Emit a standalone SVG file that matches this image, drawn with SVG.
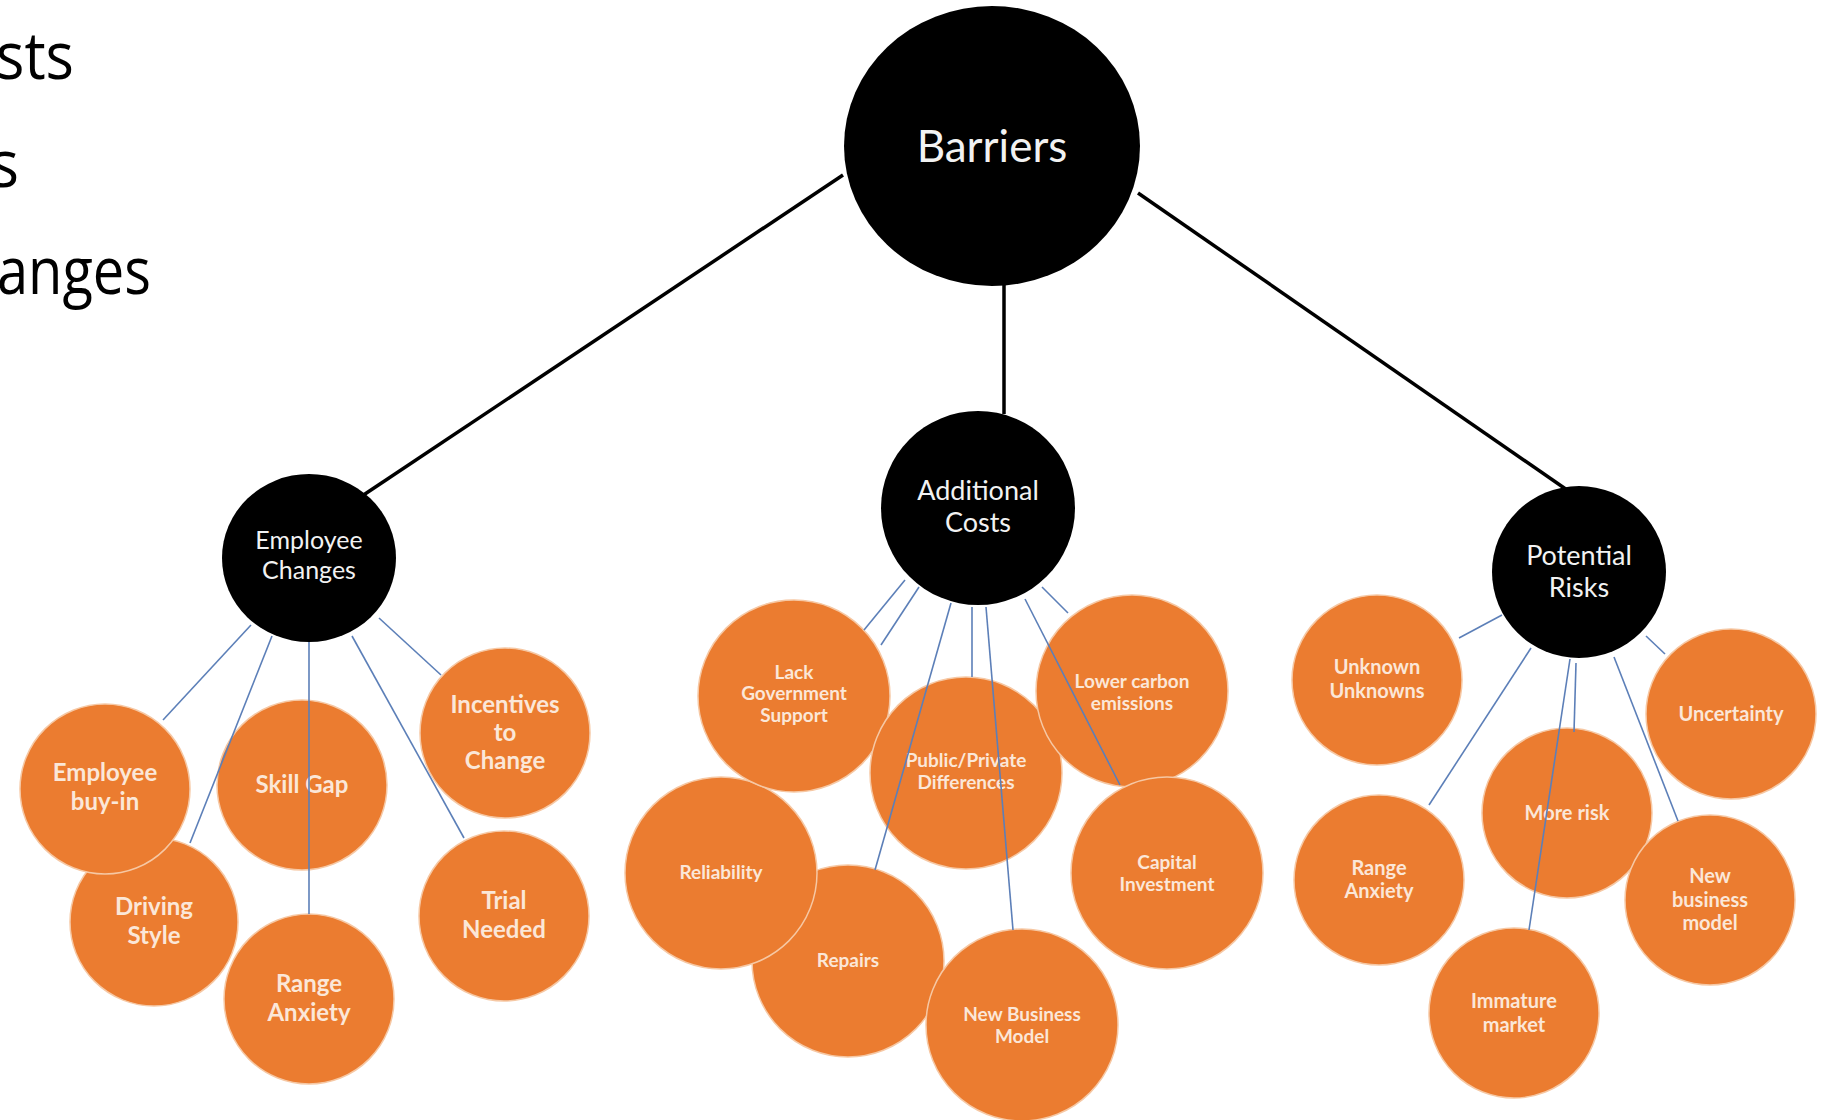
<svg xmlns="http://www.w3.org/2000/svg" width="1830" height="1120" viewBox="0 0 1830 1120">
<style>
.bg{fill:#ffffff}
.side{font-family:"Open Sans","Liberation Sans",sans-serif;font-size:66px;fill:#000}
.blk{fill:#000}
.org{fill:#EB7C30;stroke:#F6C8A4;stroke-width:1.5}
.tw{font-family:Lato,"Noto Sans",sans-serif;fill:#f2f2f2;text-anchor:middle}
.to{font-family:Lato,"Noto Sans",sans-serif;fill:#fbe7d8;text-anchor:middle;font-weight:bold}
.main{stroke:#000;stroke-width:3.5;fill:none}
.sub{stroke:#5C7FB8;stroke-width:1.6;fill:none}
</style>
<rect class="bg" x="0" y="0" width="1830" height="1120"/>
<g id="side-text">
<text class="side" x="-4" y="79" textLength="78" lengthAdjust="spacingAndGlyphs">sts</text>
<text class="side" x="-10" y="187" textLength="29" lengthAdjust="spacingAndGlyphs">s</text>
<text class="side" x="-3" y="294" textLength="154" lengthAdjust="spacingAndGlyphs">anges</text>
</g>
<g id="main-connectors">
<line class="main" x1="843" y1="175" x2="362" y2="496"/>
<line class="main" x1="1004" y1="284" x2="1004" y2="414"/>
<line class="main" x1="1138" y1="193" x2="1570" y2="492"/>
</g>
<g id="barriers"><ellipse class="blk" cx="992" cy="146" rx="148" ry="140"/><text class="tw" x="992" y="162" font-size="44">Barriers</text></g>
<g id="employee-changes"><ellipse class="blk" cx="309" cy="558" rx="87" ry="84"/><text class="tw" x="309" y="549" font-size="25">Employee</text><text class="tw" x="309" y="579" font-size="25">Changes</text></g>
<g id="additional-costs"><ellipse class="blk" cx="978" cy="508" rx="97" ry="97"/><text class="tw" x="978" y="500" font-size="27">Additional</text><text class="tw" x="978" y="532" font-size="27">Costs</text></g>
<g id="potential-risks"><ellipse class="blk" cx="1579" cy="572" rx="87" ry="86"/><text class="tw" x="1579" y="565" font-size="27">Potential</text><text class="tw" x="1579" y="597" font-size="27">Risks</text></g>

<g id="driving-style"><circle class="org" cx="154" cy="922" r="84"/><text class="to" x="154" y="915" font-size="24">Driving</text><text class="to" x="154" y="944" font-size="24">Style</text></g>
<g id="employee-buy-in"><circle class="org" cx="105" cy="789" r="85"/><text class="to" x="105" y="781" font-size="24">Employee</text><text class="to" x="105" y="810" font-size="24">buy-in</text></g>
<g id="skill-gap"><circle class="org" cx="302" cy="785" r="85"/><text class="to" x="302" y="793" font-size="24">Skill Gap</text></g>
<g id="range-anxiety-1"><circle class="org" cx="309" cy="999" r="85"/><text class="to" x="309" y="992" font-size="24">Range</text><text class="to" x="309" y="1021" font-size="24">Anxiety</text></g>
<g id="incentives"><circle class="org" cx="505" cy="733" r="85"/><text class="to" x="505" y="713" font-size="24">Incentives</text><text class="to" x="505" y="741" font-size="24">to</text><text class="to" x="505" y="769" font-size="24">Change</text></g>
<g id="trial-needed"><circle class="org" cx="504" cy="916" r="85"/><text class="to" x="504" y="909" font-size="24">Trial</text><text class="to" x="504" y="938" font-size="24">Needed</text></g>

<g id="repairs"><circle class="org" cx="848" cy="961" r="96"/><text class="to" x="848" y="967" font-size="19">Repairs</text></g>
<g id="reliability"><circle class="org" cx="721" cy="873" r="96"/><text class="to" x="721" y="879" font-size="19">Reliability</text></g>
<g id="lack-government-support"><circle class="org" cx="794" cy="696" r="96"/><text class="to" x="794" y="679" font-size="19">Lack</text><text class="to" x="794" y="700" font-size="19">Government</text><text class="to" x="794" y="722" font-size="19">Support</text></g>
<g id="public-private"><circle class="org" cx="966" cy="773" r="96"/><text class="to" x="966" y="767" font-size="19">Public/Private</text><text class="to" x="966" y="789" font-size="19">Differences</text></g>
<g id="new-business-model-1"><circle class="org" cx="1022" cy="1025" r="96"/><text class="to" x="1022" y="1021" font-size="19">New Business</text><text class="to" x="1022" y="1043" font-size="19">Model</text></g>
<g id="lower-carbon"><circle class="org" cx="1132" cy="691" r="96"/><text class="to" x="1132" y="688" font-size="19">Lower carbon</text><text class="to" x="1132" y="710" font-size="19">emissions</text></g>
<g id="capital-investment"><circle class="org" cx="1167" cy="873" r="96"/><text class="to" x="1167" y="869" font-size="19">Capital</text><text class="to" x="1167" y="891" font-size="19">Investment</text></g>

<g id="unknown-unknowns"><circle class="org" cx="1377" cy="680" r="85"/><text class="to" x="1377" y="674" font-size="20">Unknown</text><text class="to" x="1377" y="698" font-size="20">Unknowns</text></g>
<g id="uncertainty"><circle class="org" cx="1731" cy="714" r="85"/><text class="to" x="1731" y="721" font-size="20">Uncertainty</text></g>
<g id="more-risk"><circle class="org" cx="1567" cy="813" r="85"/><text class="to" x="1567" y="820" font-size="20">More risk</text></g>
<g id="range-anxiety-2"><circle class="org" cx="1379" cy="880" r="85"/><text class="to" x="1379" y="875" font-size="20">Range</text><text class="to" x="1379" y="898" font-size="20">Anxiety</text></g>
<g id="new-business-model-2"><circle class="org" cx="1710" cy="900" r="85"/><text class="to" x="1710" y="883" font-size="20">New</text><text class="to" x="1710" y="907" font-size="20">business</text><text class="to" x="1710" y="930" font-size="20">model</text></g>
<g id="immature-market"><circle class="org" cx="1514" cy="1013" r="85"/><text class="to" x="1514" y="1008" font-size="20">Immature</text><text class="to" x="1514" y="1032" font-size="20">market</text></g>

<g id="sub-connectors">
<line class="sub" x1="251" y1="625" x2="163" y2="720"/>
<line class="sub" x1="272" y1="636" x2="190" y2="843"/>
<line class="sub" x1="309" y1="642" x2="309" y2="914"/>
<line class="sub" x1="352" y1="636" x2="464" y2="838"/>
<line class="sub" x1="379" y1="618" x2="441" y2="675"/>
<line class="sub" x1="905" y1="580" x2="864" y2="630"/>
<line class="sub" x1="919" y1="587" x2="881" y2="645"/>
<line class="sub" x1="951" y1="603" x2="875" y2="870"/>
<line class="sub" x1="972" y1="607" x2="972" y2="677"/>
<line class="sub" x1="986" y1="607" x2="1013" y2="930"/>
<line class="sub" x1="1025" y1="599" x2="1120" y2="785"/>
<line class="sub" x1="1042" y1="587" x2="1068" y2="613"/>
<line class="sub" x1="1502" y1="615" x2="1459" y2="638"/>
<line class="sub" x1="1531" y1="648" x2="1429" y2="805"/>
<line class="sub" x1="1570" y1="659" x2="1529" y2="930"/>
<line class="sub" x1="1576" y1="663" x2="1574" y2="732"/>
<line class="sub" x1="1614" y1="657" x2="1678" y2="821"/>
<line class="sub" x1="1646" y1="636" x2="1665" y2="654"/>
</g>
</svg>
